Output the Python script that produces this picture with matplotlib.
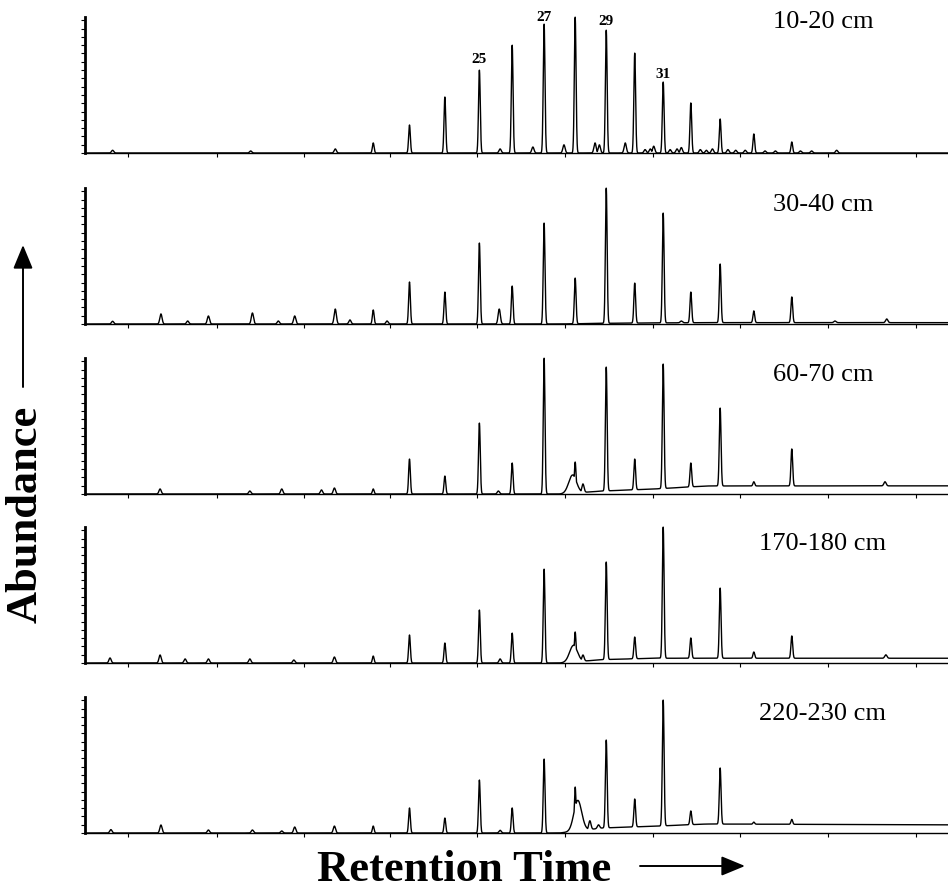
import numpy as np
import matplotlib.pyplot as plt

plt.rcParams['font.family'] = ['Liberation Serif', 'DejaVu Serif']

# depth of each sample, top panel first
depths = ['10-20 cm', '30-40 cm', '60-70 cm', '170-180 cm', '220-230 cm']

# retention (arbitrary units, 0-100 across the axis) of the n-alkane peaks
main_rt = [33.4, 37.6, 41.7, 45.7, 49.5, 53.2, 56.8, 60.4, 63.7, 67.0, 70.2, 73.6, 77.5, 81.9]

# apex heights of those peaks above the axis, % of panel height
main_h = [
    [7.4, 20.6, 41.2, 61.0, 79.4, 94.9, 100.0, 90.4, 73.5, 52.2, 36.8, 25.0, 14.0, 8.1],
    [10.3, 30.9, 23.5, 59.6, 27.9, 74.3, 33.8, 100.0, 30.1, 81.6, 23.5, 44.1, 9.6, 19.9],
    [3.7, 25.7, 13.2, 52.2, 22.8, 100.0, 23.5, 93.4, 25.7, 95.6, 22.8, 63.2, 9.0, 33.1],
    [5.1, 20.6, 14.7, 39.0, 22.0, 69.1, 22.8, 74.3, 19.1, 100.0, 18.4, 55.1, 8.1, 19.9],
    [5.1, 18.4, 11.0, 39.0, 18.4, 54.4, 33.8, 68.4, 25.0, 97.8, 16.2, 47.8, 8.0, 10.0],
]

# smaller peaks in each trace
minor_rt = [
    [3.2, 19.2, 29.0, 48.1, 51.9, 55.5, 59.1, 59.6, 62.6, 64.9, 65.5, 65.9, 67.8, 68.6,
     69.1, 71.3, 72.0, 72.7, 74.5, 75.4, 76.5, 78.8, 80.0, 82.9, 84.2, 87.1],
    [3.2, 8.8, 11.9, 14.3, 19.4, 22.4, 24.3, 29.0, 30.7, 35.0, 48.0, 69.1, 86.9, 92.9],
    [8.7, 19.1, 22.8, 27.4, 28.9, 47.9, 57.7, 92.7],
    [2.9, 8.7, 11.6, 14.3, 19.1, 24.2, 28.9, 48.1, 57.7, 92.8],
    [3.0, 8.8, 14.3, 19.4, 22.8, 24.3, 28.9, 48.1, 58.5, 59.5],
]
minor_h = [
    [2.0, 1.5, 3.0, 3.0, 4.4, 6.0, 7.4, 6.0, 7.4, 2.5, 3.0, 5.0, 2.5, 3.0,
     4.0, 2.5, 2.0, 3.0, 2.5, 2.0, 2.0, 1.5, 1.5, 1.5, 1.5, 2.0],
    [2.0, 7.4, 2.2, 5.9, 8.1, 2.2, 5.9, 11.0, 3.0, 2.2, 11.0, 2.2, 2.2, 3.7],
    [3.7, 2.2, 3.7, 3.0, 4.4, 2.2, 7.4, 9.0],
    [3.7, 5.9, 3.0, 3.0, 3.0, 2.2, 4.4, 3.0, 5.9, 6.0],
    [2.5, 5.9, 2.2, 2.2, 1.5, 4.4, 5.1, 2.0, 9.0, 6.0],
]

# broad humps under the C28 peak of the deeper samples
hump_rt = [[], [], [56.5], [56.6], [57.1]]
hump_h = [[], [], [14.0], [13.0], [24.0]]

# baseline drift (rise of the trace above the axis)
drift_rt = [0, 55, 60, 66, 72, 100]
drift_h = [
    [0, 0, 0, 0, 0, 0],
    [0, 0, 0.5, 0.8, 1.0, 1.0],
    [0, 0, 2.2, 3.7, 5.9, 6.0],
    [0, 0, 2.5, 3.5, 3.5, 3.5],
    [0, 0, 3.7, 5.0, 6.6, 6.0],
]

# carbon numbers written over the top trace (position of the label centre)
label_rt = [45.7, 53.2, 60.4, 67.0]
label_y = [69.0, 99.3, 97.0, 58.0]
label_txt = ['25', '27', '29', '31']

W, H = 948, 896
baselines = [153, 324, 494, 663, 833]
panel_px = 136

fig = plt.figure(figsize=(W / 100, H / 100), dpi=100)

x = np.linspace(0, 100, 8000)


def peak(rt, h, base, s):
    b = np.interp(rt, drift_rt, base)
    return np.interp(x, drift_rt, base) + (h - b) * np.exp(-0.5 * ((x - rt) / s) ** 2)


axes = []
for i, name in enumerate(depths):
    ax = fig.add_axes([85 / W, 1 - baselines[i] / H, 863 / W, panel_px / H])
    axes.append(ax)

    y = np.interp(x, drift_rt, drift_h[i])
    for rt, h in zip(main_rt, main_h[i]):
        y = np.maximum(y, peak(rt, h, drift_h[i], 0.1))
    for rt, h in zip(minor_rt[i], minor_h[i]):
        y = np.maximum(y, peak(rt, h, drift_h[i], 0.13))
    for rt, h in zip(hump_rt[i], hump_h[i]):
        y = np.maximum(y, peak(rt, h, drift_h[i], 0.45))

    ax.plot(x, y, color='black', lw=1.0, clip_on=False)
    ax.set_xlim(0, 100)
    ax.set_ylim(0, 100)

    for side in ['top', 'right']:
        ax.spines[side].set_visible(False)
    ax.spines['left'].set_linewidth(2.0)
    ax.spines['bottom'].set_linewidth(1.0)
    ax.set_yticks(np.arange(0, 101, 6.1))
    ax.set_xticks([5.0, 15.3, 25.4, 35.3, 45.4, 55.6, 65.8, 75.9, 86.1, 96.3])
    ax.tick_params(axis='y', direction='out', length=3, width=0.8, labelleft=False)
    ax.tick_params(axis='x', direction='out', length=3, width=0.8, labelbottom=False)
    ax.patch.set_alpha(0)

    ty = 0.96 if i == 0 else 0.875
    ax.text(0.855, ty, name, transform=ax.transAxes, ha='center', va='center', fontsize=19)

for rt, ly, t in zip(label_rt, label_y, label_txt):
    axes[0].text(rt, ly, t, ha='center', va='center', fontsize=11, fontweight='bold',
                 clip_on=False)

fig.text(26 / W, 1 - 514 / H, 'Abundance', rotation=90, fontsize=32, fontweight='bold',
         ha='center', va='center')
fig.text(464 / W, 1 - 870 / H, 'Retention Time', fontsize=32, fontweight='bold',
         ha='center', va='center')

arrow = dict(arrowstyle='-|>,head_length=1.45,head_width=0.6', lw=1.4, color='black',
             shrinkA=0, shrinkB=0)
axes[-1].annotate('', xy=(23, H - 245), xycoords='figure pixels',
                  xytext=(23, H - 387), textcoords='figure pixels',
                  arrowprops=arrow, annotation_clip=False)
axes[-1].annotate('', xy=(745, H - 866), xycoords='figure pixels',
                  xytext=(640, H - 866), textcoords='figure pixels',
                  arrowprops=arrow, annotation_clip=False)

fig.savefig('out.png', dpi=100)
